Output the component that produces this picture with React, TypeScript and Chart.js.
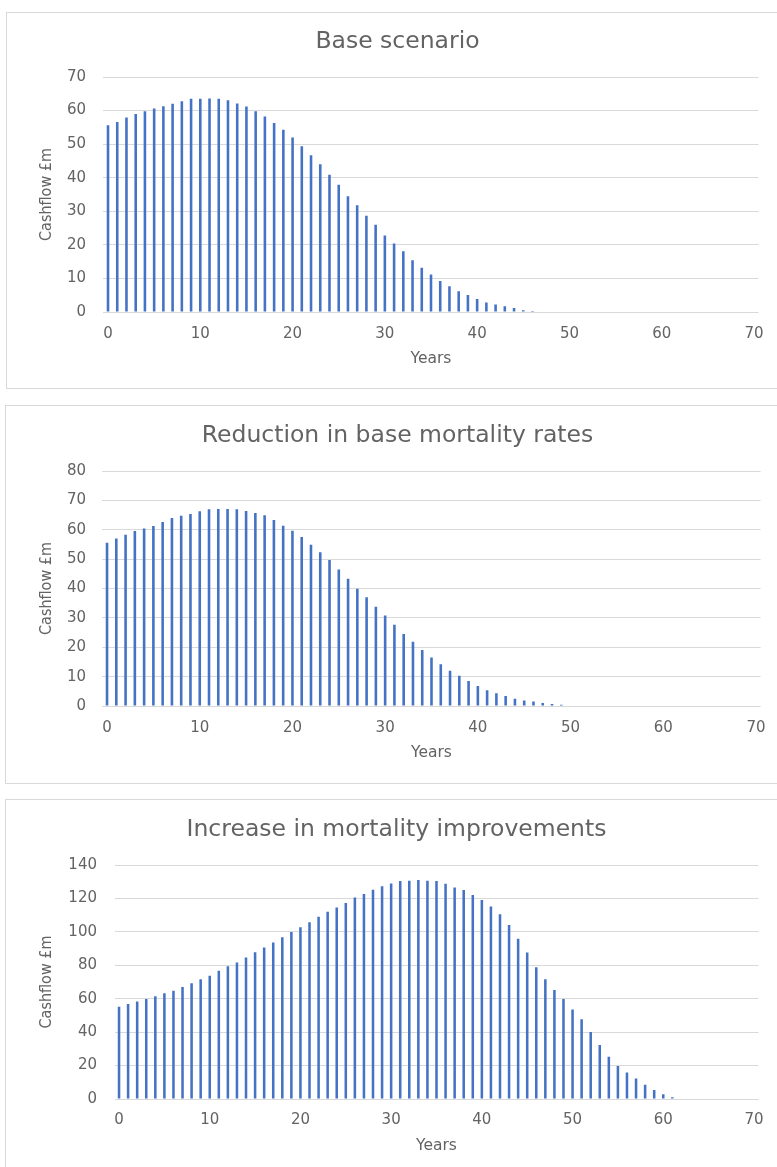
import React, { useEffect, useRef } from "react";
import { Chart, registerables } from "chart.js";

Chart.register(...registerables);

const YEARS: string[] = [
  "0", "1", "2", "3", "4", "5", "6", "7", "8", "9",
  "10", "11", "12", "13", "14", "15", "16", "17", "18", "19",
  "20", "21", "22", "23", "24", "25", "26", "27", "28", "29",
  "30", "31", "32", "33", "34", "35", "36", "37", "38", "39",
  "40", "41", "42", "43", "44", "45", "46", "47", "48", "49",
  "50", "51", "52", "53", "54", "55", "56", "57", "58", "59",
  "60", "61", "62", "63", "64", "65", "66", "67", "68", "69",
  "70",
];

const X_TICK_LABELS: string[] = ["0", "10", "20", "30", "40", "50", "60", "70"];

const BASE_SCENARIO: number[] = [
  55.6, 56.6, 57.9, 59.0, 59.8, 60.6, 61.3, 62.0, 62.8, 63.5,
  63.5, 63.6, 63.5, 63.1, 62.1, 61.2, 59.8, 58.2, 56.3, 54.3,
  52.0, 49.4, 46.7, 44.0, 40.9, 37.9, 34.5, 31.8, 28.7, 26.0,
  22.8, 20.4, 18.1, 15.4, 13.2, 11.2, 9.2, 7.7, 6.2, 5.1,
  3.9, 2.8, 2.2, 1.7, 1.2, 0.5, 0.3, 0, 0, 0,
  0, 0, 0, 0, 0, 0, 0, 0, 0, 0,
  0, 0, 0, 0, 0, 0, 0, 0, 0, 0,
  0,
];

const REDUCED_MORTALITY: number[] = [
  55.6, 57.0, 58.3, 59.6, 60.4, 61.3, 62.6, 64.0, 64.8, 65.4,
  66.3, 67.0, 67.1, 67.1, 67.0, 66.4, 65.7, 64.9, 63.3, 61.4,
  59.7, 57.5, 54.9, 52.3, 49.7, 46.5, 43.3, 39.9, 37.0, 33.8,
  30.8, 27.7, 24.5, 21.9, 19.1, 16.5, 14.2, 12.0, 10.3, 8.5,
  6.8, 5.4, 4.3, 3.4, 2.5, 1.9, 1.5, 1.0, 0.7, 0.4,
  0, 0, 0, 0, 0, 0, 0, 0, 0, 0,
  0, 0, 0, 0, 0, 0, 0, 0, 0, 0,
  0,
];

const INCREASED_IMPROVEMENTS: number[] = [
  55.2, 56.8, 58.4, 59.8, 61.4, 63.2, 64.8, 67.0, 69.2, 71.6,
  73.8, 76.8, 79.4, 81.6, 84.6, 87.8, 90.7, 93.7, 96.7, 99.9,
  102.7, 105.7, 109.1, 112.1, 114.5, 117.3, 120.5, 122.7, 125.2, 127.3,
  129.0, 130.4, 130.6, 131.0, 130.6, 130.4, 128.8, 126.6, 125.1, 122.1,
  119.1, 115.1, 110.5, 104.1, 95.9, 87.6, 78.8, 71.6, 65.2, 59.8,
  53.6, 47.7, 40.1, 32.3, 25.3, 19.7, 15.8, 12.2, 8.6, 5.4,
  2.8, 1.0, 0, 0, 0, 0, 0, 0, 0, 0,
  0,
];

const TITLES: string[] = [
  "Base scenario",
  "Reduction in base mortality rates",
  "Increase in mortality improvements",
];
const Y_MAX: number[] = [70, 80, 140];
const Y_STEP: number[] = [10, 10, 20];
const Y_TITLE = "Cashflow £m";
const X_TITLE = "Years";

const TEXT = "#636363";
const GRID = "#d9d9d9";
const BAR = "#4472c4";

type BoxProps = {
  left: number;
  top: number;
  width: number;
  canvasWidth: number;
  height: number;
  bottomBorder: boolean;
  title: string;
  values: number[];
  yMax: number;
  yStep: number;
  areaLeft: number;
  areaRight: number;
  areaTop: number;
  areaBottom: number;
  titleCenter: number;
  yTitleCenter: number;
  yTickRight: number;
  xTickCenter: number;
  xTitleCenter: number;
};

const TITLE_SIZE = 23.5;
const TICK_SIZE = 15;
const XTITLE_SIZE = 15.5;
const YTITLE_SIZE = 16;
const LH = 1.2;

function ChartBox(p: BoxProps) {
  const ref = useRef<HTMLCanvasElement | null>(null);
  useEffect(() => {
    if (!ref.current) return;
    const titleLine = TITLE_SIZE * LH;
    const titlePadTop = p.titleCenter - titleLine / 2;
    const titlePadBottom = p.areaTop - titlePadTop - titleLine;
    const xAxisH = p.height - p.areaBottom;
    const tickPad = p.xTickCenter - p.areaBottom - (TICK_SIZE * LH) / 2;
    const xTitlePadBottom = p.height - p.xTitleCenter - (XTITLE_SIZE * LH) / 2;
    const yTitlePadTop = p.yTitleCenter - (YTITLE_SIZE * LH) / 2;
    const chart = new Chart(ref.current, {
      type: "bar",
      data: {
        labels: YEARS,
        datasets: [
          {
            data: p.values,
            backgroundColor: BAR,
            borderWidth: 0,
            barPercentage: 0.28,
            categoryPercentage: 1,
          },
        ],
      },
      options: {
        responsive: false,
        animation: false,
        events: [],
        layout: {
          padding: { left: 0, right: 0, top: 0, bottom: 0 },
        },
        plugins: {
          legend: { display: false },
          tooltip: { enabled: false },
          title: {
            display: true,
            text: p.title,
            color: TEXT,
            font: { family: "'DejaVu Sans', sans-serif", size: TITLE_SIZE, weight: "normal", lineHeight: LH },
            padding: { top: titlePadTop, bottom: titlePadBottom },
          },
        },
        scales: {
          x: {
            type: "category",
            offset: true,
            grid: { display: false, drawTicks: false },
            border: { display: false },
            ticks: {
              autoSkip: false,
              maxRotation: 0,
              minRotation: 0,
              padding: tickPad,
              color: TEXT,
              font: { family: "'DejaVu Sans', sans-serif", size: TICK_SIZE, lineHeight: LH },
              callback: (_v: any, i: number) => {
                const lab = YEARS[i];
                return X_TICK_LABELS.includes(lab) ? lab : "";
              },
            },
            title: {
              display: true,
              text: X_TITLE,
              color: TEXT,
              font: { family: "'DejaVu Sans', sans-serif", size: XTITLE_SIZE, lineHeight: LH },
              padding: { top: 0, bottom: xTitlePadBottom },
            },
            afterFit: (s: any) => {
              s.height = xAxisH;
            },
          },
          y: {
            min: 0,
            max: p.yMax,
            grid: { color: GRID, lineWidth: 1, drawTicks: false },
            border: { display: false },
            ticks: {
              stepSize: p.yStep,
              padding: p.areaLeft - p.yTickRight,
              color: TEXT,
              font: { family: "'DejaVu Sans', sans-serif", size: TICK_SIZE, lineHeight: LH },
            },
            title: {
              display: true,
              text: Y_TITLE,
              color: TEXT,
              font: { family: "'Liberation Sans Narrow', 'DejaVu Sans Condensed', sans-serif", size: YTITLE_SIZE, lineHeight: LH },
              padding: { top: yTitlePadTop, bottom: 0 },
            },
            afterFit: (s: any) => {
              s.width = p.areaLeft;
            },
          },
          spacer: {
            type: "linear",
            position: "right",
            display: true,
            grid: { display: false, drawTicks: false },
            border: { display: false },
            ticks: { display: false },
            afterFit: (s: any) => {
              s.width = p.canvasWidth - p.areaRight;
            },
          },
        },
      },
    });
    return () => chart.destroy();
  }, []);
  return (
    <>
      <div
        style={{
          position: "absolute",
          left: p.left,
          top: p.top,
          width: p.width,
          height: p.height,
          boxSizing: "border-box",
          borderTop: `1px solid ${GRID}`,
          borderLeft: `1px solid ${GRID}`,
          borderBottom: p.bottomBorder ? `1px solid ${GRID}` : "none",
          background: "#ffffff",
        }}
      />
      <canvas
        ref={ref}
        width={p.canvasWidth}
        height={p.height}
        style={{ position: "absolute", left: p.left, top: p.top, width: p.canvasWidth, height: p.height }}
      />
    </>
  );
}

export default function App() {
  return (
    <div style={{ position: "absolute", left: 0, top: 0, width: 777, height: 1167, overflow: "hidden", background: "#ffffff" }}>
      <ChartBox
        left={6} top={12} width={771} canvasWidth={783} height={377} bottomBorder={true}
        title={TITLES[0]} values={BASE_SCENARIO} yMax={Y_MAX[0]} yStep={Y_STEP[0]}
        areaLeft={97.4} areaRight={752.6} areaTop={65} areaBottom={300}
        titleCenter={29.5} yTitleCenter={41} yTickRight={80} xTickCenter={322} xTitleCenter={347}
      />
      <ChartBox
        left={5} top={405} width={772} canvasWidth={785} height={379} bottomBorder={true}
        title={TITLES[1]} values={REDUCED_MORTALITY} yMax={Y_MAX[1]} yStep={Y_STEP[1]}
        areaLeft={97.4} areaRight={755.6} areaTop={66} areaBottom={301}
        titleCenter={31} yTitleCenter={42} yTickRight={81} xTickCenter={323} xTitleCenter={348}
      />
      <ChartBox
        left={5} top={799} width={772} canvasWidth={783} height={368} bottomBorder={false}
        title={TITLES[2]} values={INCREASED_IMPROVEMENTS} yMax={Y_MAX[2]} yStep={Y_STEP[2]}
        areaLeft={109.5} areaRight={753.5} areaTop={66} areaBottom={300}
        titleCenter={31} yTitleCenter={42} yTickRight={92} xTickCenter={321} xTitleCenter={347}
      />
    </div>
  );
}
